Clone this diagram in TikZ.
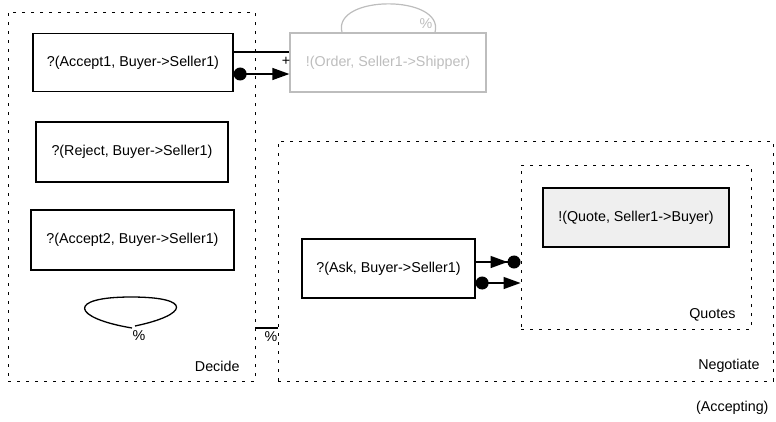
\documentclass[tikz,border=0pt]{standalone}
\usepackage{fontspec}
\setmainfont{Liberation Sans}
\usetikzlibrary{arrows.meta,calc}
\definecolor{faded}{HTML}{BDBDBD}
\definecolor{boxfill}{HTML}{EFEFEF}
\tikzset{
  txt/.style={font=\fontsize{14.3}{17}\selectfont},
  msg/.style={txt, draw, line width=1.3pt, inner sep=0pt, anchor=center},
  region/.style={draw, line width=0.9pt, dash pattern=on 3pt off 6pt, inner sep=0pt, anchor=center},
  conn/.style={line width=1.3pt},
  dotarrow/.style={{Circle[length=13pt]}-{Triangle[length=17pt,width=12pt]}},
  arrowdot/.style={-{Triangle[length=17pt,width=12pt]Circle[length=13pt]}},
}
\begin{document}
\begin{tikzpicture}[x=1pt,y=-1pt]
\useasboundingbox (0,0) rectangle (776,421);

% regions
\node[region, minimum width=247pt, minimum height=369pt] (decide) at (131.5,196.5) {};
\node[region, minimum width=495pt, minimum height=240pt] (negotiate) at (525.5,261) {};
\node[region, minimum width=230pt, minimum height=164pt] (quotes) at (636,247) {};

\node[txt, anchor=east] (decidelbl) at (243,366) {Decide};
\node[txt, anchor=east] (negotiatelbl) at (763,366) {Negotiate};
\node[txt, anchor=east] (quoteslbl) at (739,315) {Quotes};
\node[txt, anchor=east] (acceptinglbl) at (772,408) {(Accepting)};

% message boxes
\node[msg, minimum width=200pt, minimum height=58pt] (accept1) at (133,62.5) {?(Accept1, Buyer->Seller1)};
\node[msg, minimum width=192pt, minimum height=60pt] (reject) at (132,152) {?(Reject, Buyer->Seller1)};
\node[msg, minimum width=203pt, minimum height=60pt] (accept2) at (132.5,240) {?(Accept2, Buyer->Seller1)};
\node[msg, draw=faded, text=faded, minimum width=196pt, minimum height=59pt] (order) at (388,62.5) {!(Order, Seller1->Shipper)};
\node[msg, minimum width=173pt, minimum height=59pt] (ask) at (388.5,268.5) {?(Ask, Buyer->Seller1)};
\node[msg, fill=boxfill, minimum width=186pt, minimum height=59pt] (quote) at (636,217.5) {!(Quote, Seller1->Buyer)};

% connectors between Accept1 and Order
\draw[conn] (accept1.east |- 0,52) -- (order.west |- 0,52);
\node[txt] (plus) at (286,61) {+};
\draw[conn, dotarrow] (accept1.east |- 0,74) -- (order.west |- 0,74);

% faded self loop on Order
\coordinate (oa) at ($(order.north)+(-46,0)$);
\coordinate (ob) at ($(order.north)+(47,0)$);
\draw[faded, line width=1.2pt] (oa) .. controls ($(oa)+(-10,-38)$) and ($(ob)+(10,-38)$) .. (ob);
\node[txt, text=faded] (orderpct) at (426,24) {\%};

% self loop inside Decide
\coordinate (loopbase) at (133,327);
\draw[line width=1.3pt] ($(loopbase)+(-1,1)$) .. controls (72,318) and (66,297) .. (131,297)
  .. controls (194,297) and (188,315) .. ($(loopbase)+(2,-1)$);
\node[txt] (looppct) at (139,336) {\%};

% connector between Decide and Negotiate
\draw[line width=1.3pt] (decide.east |- 0,328) -- (negotiate.west |- 0,328);
\node[txt] (linkpct) at (271,337) {\%};

% connectors from Ask into Quotes
\draw[conn, arrowdot] (ask.east |- 0,262) -- (quotes.west |- 0,262);
\draw[conn, dotarrow] (ask.east |- 0,283) -- (quotes.west |- 0,283);
\end{tikzpicture}
\end{document}
